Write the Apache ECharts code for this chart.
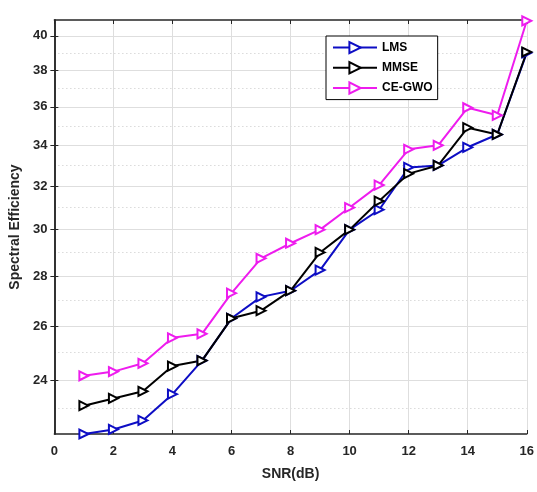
<!DOCTYPE html>
<html>
<head>
<meta charset="utf-8">
<title>Spectral Efficiency vs SNR</title>
<script src="https://cdn.jsdelivr.net/npm/echarts@6/dist/echarts.min.js"></script>
<style>
  html, body { margin: 0; padding: 0; background: #fff; }
  #chart { width: 537px; height: 492px; }
</style>
</head>
<body>
<div id="chart"></div>
<script>
// SNR values (dB)
const snr = [1, 2, 3, 4, 5, 6, 7, 8, 9, 10, 11, 12, 13, 14, 15, 16];

// spectral efficiency per method
const lms = [22.15, 22.3, 22.6, 23.5, 24.7, 26.3, 27.15, 27.4, 28.25, 30.0, 30.9, 32.9, 33.0, 33.9, 34.55, 39.0];
const mmse = [23.1, 23.35, 23.6, 24.5, 24.7, 26.3, 26.6, 27.4, 29.0, 30.0, 31.3, 32.6, 33.0, 34.9, 34.55, 39.05];
const ceGwo = [24.15, 24.3, 24.6, 25.55, 25.7, 27.3, 28.75, 29.4, 30.0, 31.0, 32.05, 33.8, 34.0, 35.95, 35.55, 40.9];

// tick labels on the (log) y axis, and the dotted minor grid lines
const yTicks = [24, 26, 28, 30, 32, 34, 36, 38, 40];
const yMinor = [23, 25, 27, 29, 31, 33, 35, 37, 39];

const axisColor = "#262626";
const labelFont = {
  color: axisColor,
  fontFamily: "Liberation Sans, Arial, sans-serif",
  fontWeight: "bold",
  fontSize: 13,
};

function pairs(values) {
  return snr.map((x, i) => [x, values[i]]);
}

function makeSeries(name, values, color) {
  return {
    name: name,
    type: "line",
    data: pairs(values),
    symbol: "emptyTriangle",
    symbolRotate: -90,
    symbolSize: 9,
    lineStyle: { color: color, width: 2 },
    itemStyle: { color: color, borderColor: color, borderWidth: 2 },
    emphasis: { disabled: true },
  };
}

const chart = echarts.init(document.getElementById("chart"), null, { renderer: "canvas" });

const yBase = {
  type: "log",
  logBase: 10,
  min: 22.15,
  max: 40.95,
  scale: true,
};

chart.setOption({
  animation: false,
  grid: { left: 52, right: 9, top: 20, bottom: 58 },
  legend: {
    orient: "vertical",
    left: 326,
    top: 36,
    itemWidth: 44,
    itemHeight: 14,
    itemGap: 7,
    padding: [5, 5, 5, 6],
    borderColor: "#000",
    borderWidth: 1,
    backgroundColor: "#fff",
    textStyle: {
      color: "#000",
      fontFamily: "Liberation Sans, Arial, sans-serif",
      fontWeight: "bold",
      fontSize: 12,
    },
    data: ["LMS", "MMSE", "CE-GWO"],
  },
  xAxis: [
    {
      type: "value",
      min: 0,
      max: 16,
      interval: 2,
      name: "SNR(dB)",
      nameLocation: "middle",
      nameGap: 33,
      nameTextStyle: { ...labelFont, fontSize: 14 },
      axisLine: { lineStyle: { color: axisColor, width: 1.5 } },
      axisTick: { inside: true, length: 4, lineStyle: { color: axisColor } },
      axisLabel: { ...labelFont, margin: 11 },
      splitLine: { show: true, lineStyle: { color: "#dedede", width: 1 } },
    },
    {
      type: "value",
      position: "top",
      min: 0,
      max: 16,
      interval: 2,
      axisLine: { lineStyle: { color: axisColor, width: 1.5 } },
      axisTick: { inside: true, length: 4, lineStyle: { color: axisColor } },
      axisLabel: { show: false },
      splitLine: { show: false },
    },
  ],
  yAxis: [
    {
      ...yBase,
      name: "Spectral Efficiency",
      nameLocation: "middle",
      nameGap: 30,
      nameTextStyle: { ...labelFont, fontSize: 14 },
      axisLine: { show: true, lineStyle: { color: axisColor, width: 1.5 } },
      axisTick: { show: true, inside: true, length: 4, customValues: yTicks, lineStyle: { color: axisColor } },
      axisLabel: { ...labelFont, margin: 7, customValues: yTicks, formatter: (v) => String(Math.round(v)) },
      splitLine: { show: true, lineStyle: { color: "#dedede", width: 1 } },
    },
    {
      ...yBase,
      position: "right",
      axisLine: { show: true, lineStyle: { color: axisColor, width: 1.5 } },
      axisTick: { show: true, inside: true, length: 4, customValues: yTicks, lineStyle: { color: axisColor } },
      axisLabel: { show: false },
      splitLine: { show: false },
    },
    {
      ...yBase,
      position: "left",
      axisLine: { show: false },
      axisTick: { show: false, customValues: yMinor },
      axisLabel: { show: false, customValues: yMinor },
      splitLine: { show: true, lineStyle: { color: "#c8c8c8", width: 1, type: [1, 3] } },
    },
  ],
  series: [
    makeSeries("LMS", lms, "#0d0dc4"),
    makeSeries("MMSE", mmse, "#000000"),
    makeSeries("CE-GWO", ceGwo, "#ee1cee"),
  ],
});
</script>
</body>
</html>
